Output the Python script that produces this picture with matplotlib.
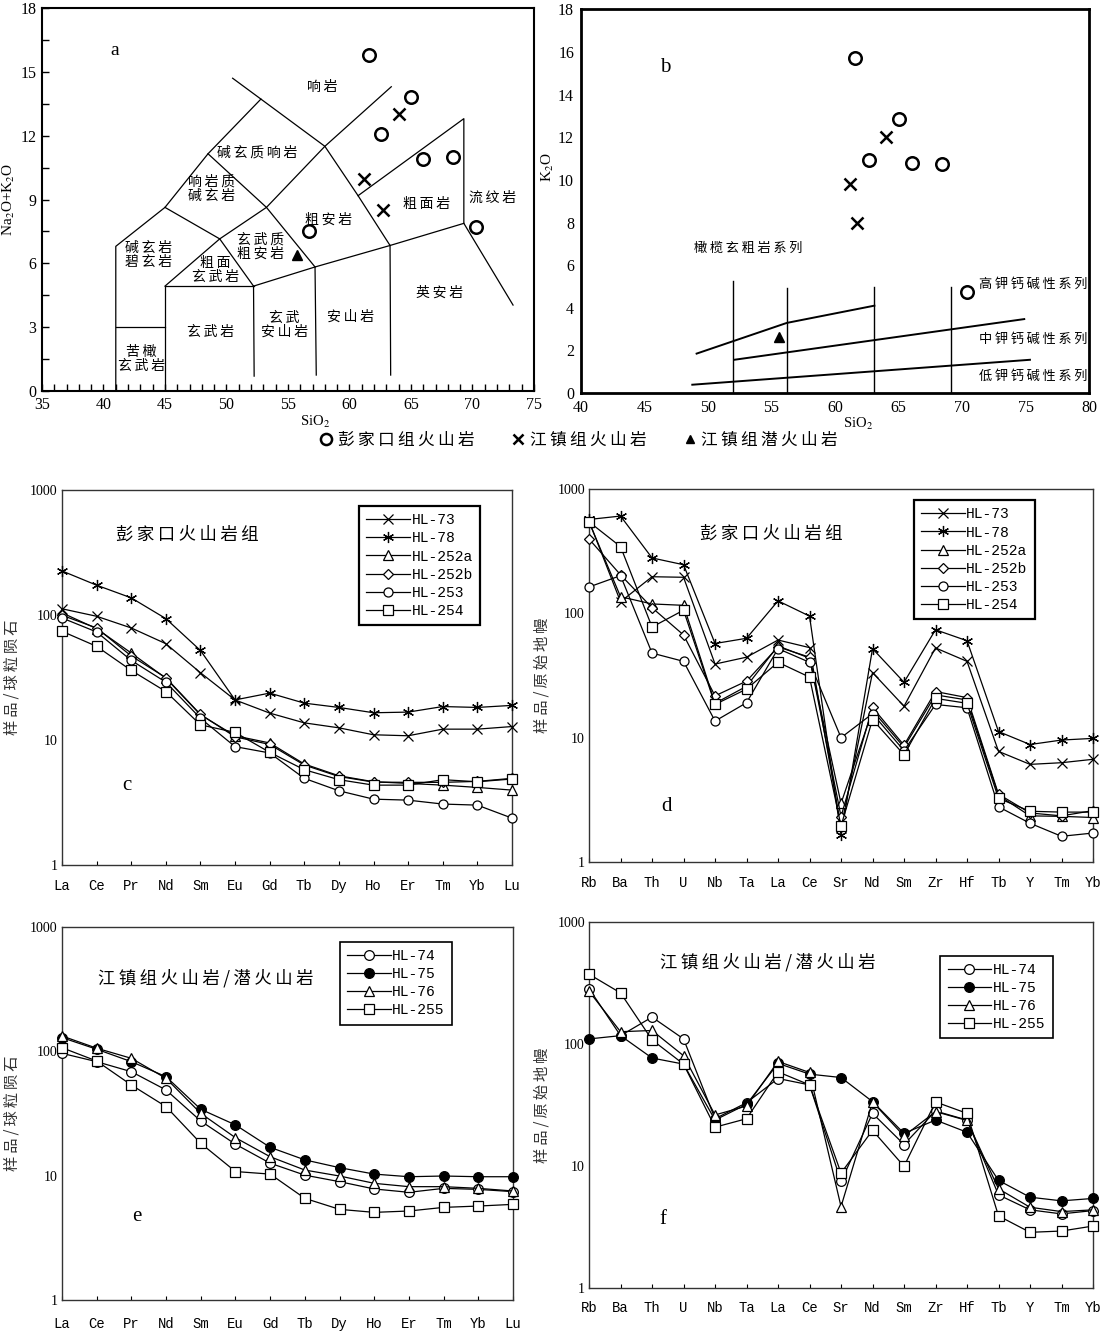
import numpy as np
import matplotlib
matplotlib.use('Agg')
import matplotlib.pyplot as plt
from matplotlib.lines import Line2D
from matplotlib.ticker import FixedLocator, MultipleLocator, NullLocator

plt.rcParams['font.family'] = ['Liberation Serif', 'Noto Sans CJK SC', 'DejaVu Sans']
plt.rcParams['mathtext.fontset'] = 'stix'
CJK = ['Noto Sans CJK SC', 'DejaVu Sans']
MONO = ['Liberation Mono', 'DejaVu Sans Mono']

# ---------------- TAS diagram (a) ----------------
tas_lines = [
    [(41.0, 0.0), (41.0, 6.8), (45.0, 8.63), (48.5, 11.15), (52.8, 13.72)],
    [(41.0, 3.0), (45.0, 3.0)],
    [(45.0, 0.0), (45.0, 4.93), (52.2, 4.93)],
    [(45.0, 8.63), (49.45, 7.15), (52.2, 4.93)],
    [(49.45, 7.15), (45.0, 4.93)],
    [(48.5, 11.15), (53.25, 8.63), (57.2, 5.83)],
    [(49.45, 7.15), (53.25, 8.63), (58.0, 11.5), (63.4, 14.3)],
    [(50.5, 14.7), (52.8, 13.72), (58.0, 11.5), (60.7, 9.18), (63.3, 6.84)],
    [(52.2, 4.93), (57.2, 5.83), (63.3, 6.84), (69.3, 7.88)],
    [(60.7, 9.18), (69.3, 12.8), (69.3, 7.88), (73.3, 4.04)],
    [(52.2, 4.93), (52.25, 0.7)],
    [(57.2, 5.83), (57.3, 0.75)],
    [(63.3, 6.84), (63.35, 0.75)],
]
tas_names = ['响岩', '碱玄质响岩', '响岩质\n碱玄岩', '碱玄岩\n碧玄岩', '粗面\n玄武岩',
             '玄武质\n粗安岩', '粗安岩', '粗面岩', '流纹岩', '英安岩', '安山岩',
             '玄武\n安山岩', '玄武岩', '苦橄\n玄武岩']
tas_name_x = [57.8, 52.5, 48.8, 43.7, 49.1, 52.8, 58.3, 66.3, 71.6, 67.3, 60.1, 54.7, 48.7, 43.1]
tas_name_y = [14.3, 11.2, 9.5, 6.4, 5.7, 6.8, 8.05, 8.8, 9.1, 4.6, 3.5, 3.1, 2.8, 1.5]

pjk_sio2_a = [61.6, 65.0, 62.6, 66.0, 68.4, 56.7, 70.3]
pjk_alk_a = [15.8, 13.8, 12.1, 10.9, 11.0, 7.5, 7.7]
jz_sio2_a = [64.0, 61.2, 62.7]
jz_alk_a = [13.0, 9.95, 8.5]
jzs_sio2_a = [55.7]
jzs_alk_a = [6.4]

# ---------------- SiO2-K2O diagram (b) ----------------
k_verticals_x = [52.0, 56.2, 63.1, 69.1]
k_verticals_top = [5.24, 4.93, 4.98, 4.98]
k_upper = [(49.1, 1.85), (56.2, 3.29), (63.1, 4.1)]
k_middle = [(52.06, 1.56), (74.9, 3.47)]
k_lower = [(48.76, 0.39), (75.35, 1.56)]

pjk_sio2_b = [61.6, 65.0, 62.7, 66.1, 68.4, 70.4]
pjk_k2o_b = [15.73, 12.88, 10.94, 10.8, 10.75, 4.76]
jz_sio2_b = [64.0, 61.2, 61.7]
jz_k2o_b = [12.0, 9.83, 7.97]
jzs_sio2_b = [55.6]
jzs_k2o_b = [2.61]

# ---------------- REE / trace element patterns ----------------
ree = ['La', 'Ce', 'Pr', 'Nd', 'Sm', 'Eu', 'Gd', 'Tb', 'Dy', 'Ho', 'Er', 'Tm', 'Yb', 'Lu']
trace = ['Rb', 'Ba', 'Th', 'U', 'Nb', 'Ta', 'La', 'Ce', 'Sr', 'Nd', 'Sm', 'Zr', 'Hf',
         'Tb', 'Y', 'Tm', 'Yb']

pjk_names = ['HL-73', 'HL-78', 'HL-252a', 'HL-252b', 'HL-253', 'HL-254']
jz_names = ['HL-74', 'HL-75', 'HL-76', 'HL-255']

hl73_ree = [112, 97.6, 78.7, 58.9, 34.5, 20.9, 16.4, 13.7, 12.5, 11.0, 10.8, 12.2, 12.2, 12.8]
hl78_ree = [225, 173, 137, 93.5, 52, 20.9, 23.7, 19.7, 18.2, 16.5, 16.7, 18.5, 18.2, 18.9]
hl252a_ree = [104, 77.7, 49.6, 31.2, 15.9, 10.8, 9.46, 6.42, 5.17, 4.63, 4.49, 4.35, 4.17, 3.97]
hl252b_ree = [99.4, 78.7, 47.0, 31.5, 16.0, 10.6, 9.2, 6.3, 5.1, 4.6, 4.58, 4.58, 4.66, 4.93]
hl253_ree = [94.6, 73.1, 43.3, 29.0, 14.9, 8.84, 7.87, 4.93, 3.92, 3.36, 3.30, 3.07, 3.01, 2.37]
hl254_ree = [74, 56.1, 36.0, 24.4, 13.2, 11.5, 7.96, 5.78, 4.81, 4.35, 4.35, 4.81, 4.63, 4.87]

hl73_tr = [551, 124, 197, 195, 39.1, 44.4, 61, 53, 1.9, 33.4, 17.9, 52.7, 41.1, 7.76, 6.1, 6.29, 6.7]
hl78_tr = [569, 606, 279, 246, 57.2, 63, 126, 95, 1.64, 52, 27.9, 73.8, 60.2, 11.2, 8.81, 9.57, 9.87]
hl252a_tr = [544, 136, 119, 116, 18.9, 25.9, 54.7, 43.6, 2.96, 16.6, 8.37, 22.1, 20.1, 3.44, 2.35, 2.33, 2.28]
hl252b_tr = [396, 204, 111, 67, 21.7, 28.5, 53.7, 44.4, 2.32, 17.5, 8.7, 23.5, 21.0, 3.51, 2.48, 2.35, 2.59]
hl253_tr = [163, 201, 47.9, 41.1, 13.6, 19.1, 52, 40.4, 10.0, 15.6, 7.86, 18.5, 17.4, 2.78, 2.05, 1.61, 1.71]
hl254_tr = [544, 344, 77.6, 106, 18.5, 24.6, 40.4, 30.7, 1.95, 14.0, 7.28, 20.7, 18.9, 3.25, 2.56, 2.52, 2.52]

hl74_ree = [96.4, 82.6, 68.6, 48.9, 27.5, 17.9, 12.6, 10.1, 8.95, 7.82, 7.35, 7.91, 7.76, 7.44]
hl75_ree = [129, 104, 82.6, 62.5, 34.2, 25.6, 16.9, 13.4, 11.6, 10.3, 9.81, 9.94, 9.81, 9.81]
hl76_ree = [133, 106, 87.9, 60.6, 31.7, 20.2, 14.2, 11.1, 9.94, 8.68, 8.16, 8.16, 7.91, 7.53]
hl255_ree = [107, 83.6, 53.6, 35.9, 18.2, 10.8, 10.3, 6.57, 5.36, 5.07, 5.2, 5.56, 5.70, 5.88]

hl74_tr = [284, 117, 166, 110, 24.4, 33.0, 52.1, 46.2, 7.48, 27.0, 15.0, 28.2, 23.8, 5.80, 4.37, 4.05, 4.31]
hl75_tr = [110, 117, 76.7, 68.4, 23.8, 32.0, 69.3, 56.6, 53.1, 33.7, 18.5, 23.8, 18.9, 7.62, 5.55, 5.18, 5.42]
hl76_tr = [270, 126, 129, 80.1, 26.2, 31.0, 71.9, 58.4, 4.65, 33.5, 17.6, 27.9, 23.6, 6.50, 4.59, 4.23, 4.37]
hl255_tr = [373, 262, 108, 68.4, 20.8, 24.4, 59.1, 46.2, 8.75, 19.6, 9.94, 33.5, 27.0, 3.90, 2.86, 2.93, 3.22]

# marker styles: (marker, facecolor, size)
pjk_styles = [('x', 'none', 7), ((6, 2, 0), 'none', 8), ('^', 'white', 6.5),
              ('D', 'white', 5), ('o', 'white', 6.5), ('s', 'white', 6.5)]
jz_styles = [('o', 'white', 7), ('o', 'black', 7), ('^', 'white', 7), ('s', 'white', 7)]


def spaced(s):
    """Insert thin spaces between characters (wide CJK letter spacing)."""
    return '\n'.join('\u2009'.join(line) for line in s.split('\n'))


def draw_tas(ax):
    for seg in tas_lines:
        xs, ys = zip(*seg)
        ax.plot(xs, ys, color='black', lw=0.9)
    for name, x, y in zip(tas_names, tas_name_x, tas_name_y):
        ax.text(x, y, spaced(name), ha='center', va='center', fontsize=10,
                family=CJK, linespacing=1.0)
    ax.plot(pjk_sio2_a, pjk_alk_a, 'o', ms=9, mfc='none', mec='black', mew=1.8)
    ax.plot(jz_sio2_a, jz_alk_a, 'x', ms=8, mec='black', mew=1.8)
    ax.plot(jzs_sio2_a, jzs_alk_a, '^', ms=7, color='black')
    ax.text(40.9, 16.0, 'a', fontsize=14, ha='center', va='center')

    ax.set_xlim(35, 75)
    ax.set_ylim(0, 18)
    ax.xaxis.set_major_locator(MultipleLocator(5))
    ax.xaxis.set_minor_locator(MultipleLocator(1))
    ax.yaxis.set_major_locator(MultipleLocator(3))
    ax.yaxis.set_minor_locator(MultipleLocator(1.5))
    ax.tick_params(which='both', direction='in', length=5, width=1, labelsize=11.5, pad=4)
    for sp in ax.spines.values():
        sp.set_linewidth(1.5)
    ax.set_ylabel('Na$_2$O+K$_2$O', fontsize=11)
    ax.yaxis.set_label_coords(-0.05, 0.5)
    ax.set_xlabel('SiO$_2$', fontsize=10.5)
    ax.xaxis.set_label_coords(0.555, -0.06)


def draw_k2o(ax):
    for x, top in zip(k_verticals_x, k_verticals_top):
        ax.plot([x, x], [0, top], color='black', lw=1.0)
    for seg in (k_upper, k_middle, k_lower):
        xs, ys = zip(*seg)
        ax.plot(xs, ys, color='black', lw=1.4)
    ax.plot(pjk_sio2_b, pjk_k2o_b, 'o', ms=9, mfc='none', mec='black', mew=1.8)
    ax.plot(jz_sio2_b, jz_k2o_b, 'x', ms=8, mec='black', mew=1.8)
    ax.plot(jzs_sio2_b, jzs_k2o_b, '^', ms=7, color='black')
    ax.text(53.2, 6.8, spaced('橄榄玄粗岩系列'), ha='center', va='center', fontsize=9.5, family=CJK)
    ax.text(79.9, 5.1, spaced('高钾钙碱性系列'), ha='right', va='center', fontsize=9.5, family=CJK)
    ax.text(79.9, 2.5, spaced('中钾钙碱性系列'), ha='right', va='center', fontsize=9.5, family=CJK)
    ax.text(79.9, 0.8, spaced('低钾钙碱性系列'), ha='right', va='center', fontsize=9.5, family=CJK)
    ax.text(46.6, 15.3, 'b', fontsize=15, ha='center', va='center')

    ax.set_xlim(40, 80)
    ax.set_ylim(0, 18)
    ax.xaxis.set_major_locator(MultipleLocator(5))
    ax.yaxis.set_major_locator(MultipleLocator(2))
    ax.tick_params(length=0, labelsize=11.5, pad=5)
    for sp in ax.spines.values():
        sp.set_linewidth(2)
    ax.set_ylabel('K$_2$O', fontsize=11)
    ax.yaxis.set_label_coords(-0.05, 0.59)
    ax.set_xlabel('SiO$_2$', fontsize=10.5)
    ax.xaxis.set_label_coords(0.545, -0.06)


def draw_pattern(ax, elements, series, names, styles, title, title_xy, letter, letter_xy,
                 ylabel, ylabel_x, legend_xy, label_pad, frame_lw):
    x = np.arange(len(elements))
    for vals, name, (mk, fc, ms) in zip(series, names, styles):
        ax.plot(x, vals, color='black', lw=0.9, marker=mk, ms=ms, mfc=fc,
                mec='black', mew=0.9, label=name, clip_on=False, zorder=3)
    ax.set_yscale('log')
    ax.set_ylim(1, 1000)
    ax.set_xlim(0, len(elements) - 1)
    ax.yaxis.set_major_locator(FixedLocator([1, 10, 100, 1000]))
    ax.yaxis.set_minor_locator(NullLocator())
    ax.set_yticklabels(['1', '10', '100', '1000'])
    ax.set_xticks(x)
    ax.set_xticklabels(elements, family=MONO, fontsize=10)
    ax.tick_params(axis='x', direction='in', length=3, width=0.8, pad=label_pad)
    ax.tick_params(axis='y', length=0, labelsize=10, pad=3)
    for sp in ax.spines.values():
        sp.set_linewidth(1.0)
        sp.set_color('#333333')
    ax.text(title_xy[0], title_xy[1], spaced(title), transform=ax.transAxes,
            ha='center', va='center', fontsize=12.5, family=CJK)
    ax.text(letter_xy[0], letter_xy[1], letter, transform=ax.transAxes,
            ha='center', va='center', fontsize=15)
    ax.set_ylabel(spaced(ylabel), fontsize=11, family=CJK, color='#333333')
    ax.yaxis.set_label_coords(ylabel_x, 0.5)
    leg = ax.legend(loc='upper left', bbox_to_anchor=legend_xy, frameon=True, fancybox=False,
                    edgecolor='black', framealpha=1, handlelength=3.0, handletextpad=0.1,
                    labelspacing=0.28, borderpad=0.5, borderaxespad=0.0,
                    prop={'family': MONO, 'size': 10.5})
    leg.get_frame().set_linewidth(frame_lw)


fig = plt.figure(figsize=(11.11, 13.35), dpi=100)

ax_a = fig.add_axes([0.0378, 0.7071, 0.4428, 0.2869])
draw_tas(ax_a)

ax_b = fig.add_axes([0.523, 0.7056, 0.4572, 0.2873])
draw_k2o(ax_b)

# shared symbol key for a and b
key_handles = [
    Line2D([], [], ls='none', marker='o', ms=8, mfc='none', mec='black', mew=1.8),
    Line2D([], [], ls='none', marker='x', ms=7, mec='black', mew=1.8),
    Line2D([], [], ls='none', marker='^', ms=6, color='black'),
]
key_labels = [spaced('彭家口组火山岩'), spaced('江镇组火山岩'), spaced('江镇组潜火山岩')]
fig.legend(key_handles, key_labels, loc='center', bbox_to_anchor=(0.521, 0.6704), ncol=3,
           frameon=False, handlelength=0.8, handletextpad=0.3, columnspacing=2.2,
           prop={'family': CJK, 'size': 12})

ax_c = fig.add_axes([0.0558, 0.3521, 0.405, 0.2809])
draw_pattern(ax_c, ree, [hl73_ree, hl78_ree, hl252a_ree, hl252b_ree, hl253_ree, hl254_ree],
             pjk_names, pjk_styles, '彭家口火山岩组', (0.279, 0.88), 'c', (0.144, 0.213),
             '样品/球粒陨石', -0.093, (0.66, 0.957), 10, 1.6)

ax_d = fig.add_axes([0.5302, 0.3543, 0.4536, 0.2794])
draw_pattern(ax_d, trace, [hl73_tr, hl78_tr, hl252a_tr, hl252b_tr, hl253_tr, hl254_tr],
             pjk_names, pjk_styles, '彭家口火山岩组', (0.362, 0.88), 'd', (0.154, 0.15),
             '样品/原始地幔', -0.077, (0.644, 0.97), 10, 1.6)

ax_e = fig.add_axes([0.0558, 0.0262, 0.406, 0.2794])
draw_pattern(ax_e, ree, [hl74_ree, hl75_ree, hl76_ree, hl255_ree],
             jz_names, jz_styles, '江镇组火山岩/潜火山岩', (0.318, 0.862), 'e', (0.165, 0.225),
             '样品/球粒陨石', -0.093, (0.616, 0.96), 12, 1.2)

ax_f = fig.add_axes([0.5302, 0.0352, 0.4536, 0.2742])
draw_pattern(ax_f, trace, [hl74_tr, hl75_tr, hl76_tr, hl255_tr],
             jz_names, jz_styles, '江镇组火山岩/潜火山岩', (0.354, 0.89), 'f', (0.146, 0.186),
             '样品/原始地幔', -0.077, (0.697, 0.908), 9, 1.2)

fig.savefig('out.png', dpi=100)
